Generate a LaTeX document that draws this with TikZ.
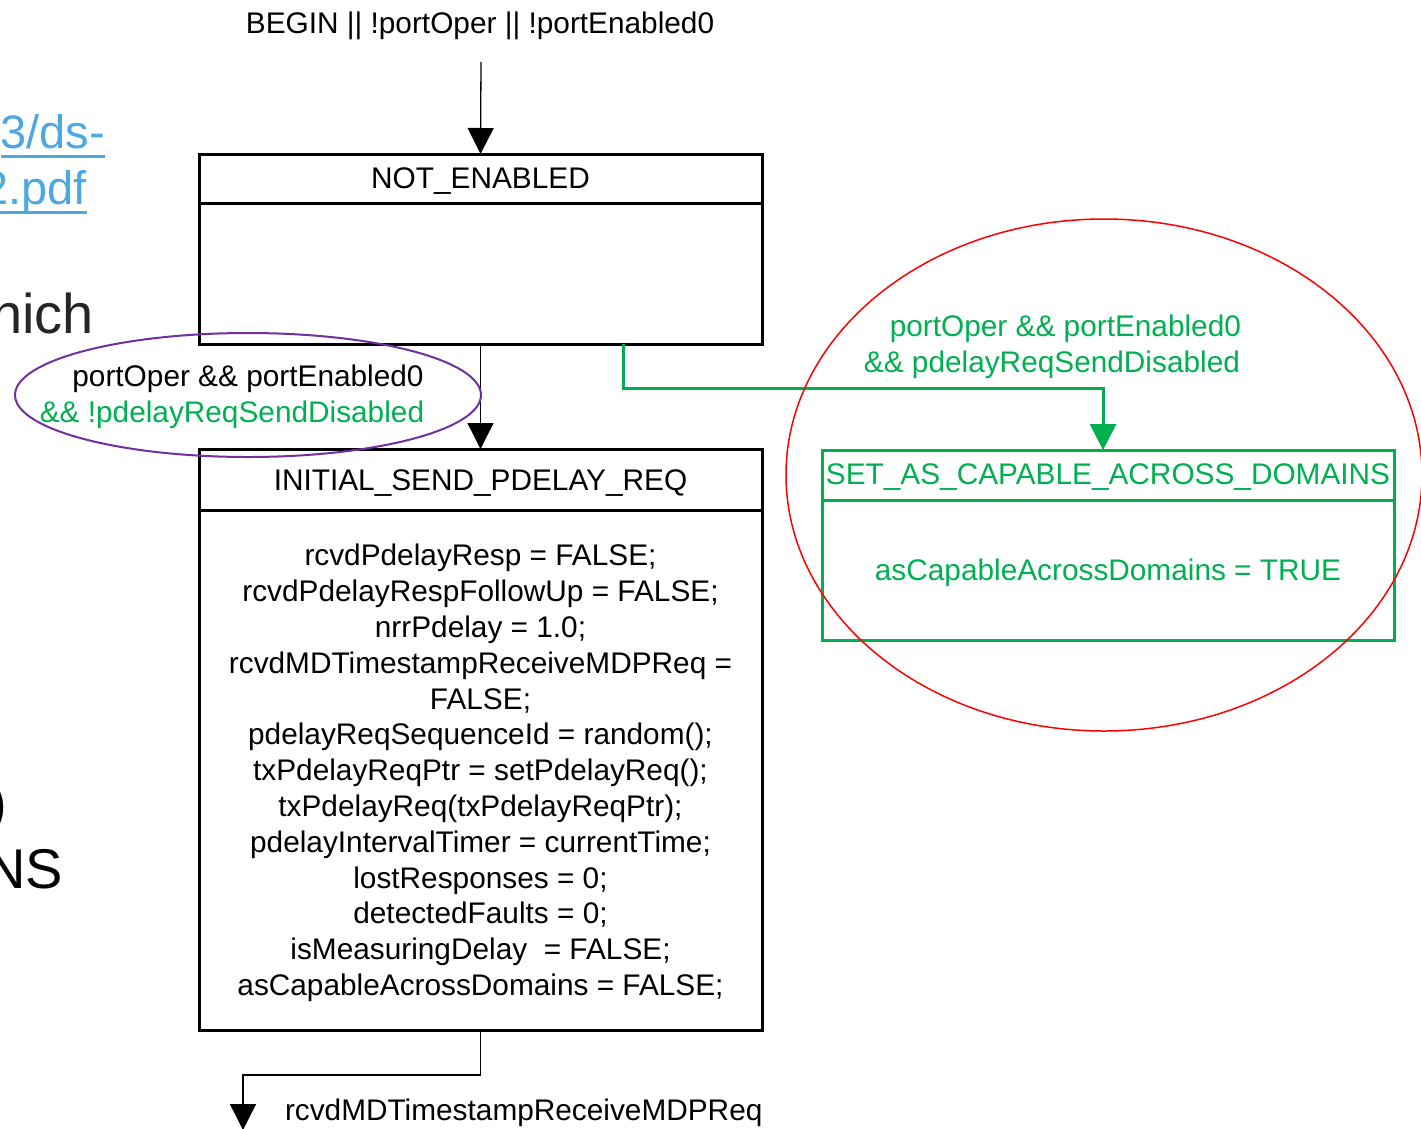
\documentclass[tikz,border=0pt]{standalone}
\usepackage{fontspec}
\setmainfont{Liberation Sans}
\usetikzlibrary{arrows.meta,calc}
\definecolor{vgreen}{HTML}{00B050}
\definecolor{linkblue}{HTML}{4EA8E0}
\definecolor{vpurple}{HTML}{7030A0}
\definecolor{dgray}{HTML}{262626}
\begin{document}
\begin{tikzpicture}[x=1pt,y=-1pt,
  every node/.style={inner sep=0pt,outer sep=0pt},
  lbl/.style={font=\fontsize{29.8}{35.8}\selectfont},
  linkfont/.style={font=\fontsize{47}{56}\selectfont,text=linkblue},
  big/.style={font=\fontsize{56}{66}\selectfont},
  uline/.style={draw=linkblue,line width=3pt},
  statebox/.style={draw,line width=3pt,minimum width=563pt,anchor=north west},
  gbox/.style={draw=vgreen,line width=3pt,minimum width=572pt,anchor=north west},
  conn/.style={line width=1.3pt,-{Triangle[width=26pt,length=26pt]}},
  gconn/.style={draw=vgreen,line width=3pt,-{Triangle[width=26pt,length=26pt]},color=vgreen},
  hdr/.style={line width=3pt}]
\useasboundingbox (0,0) rectangle (1421,1128);
\clip (0,0) rectangle (1421,1128);

% left background fragments
\node[linkfont,anchor=base east] (f1) at (105,148) {3/ds-};
\draw[uline] ($(f1.base west)+(0,8)$) -- ($(f1.base east)+(0,8)$);
\node[linkfont,anchor=base east] (f2) at (87,204) {2.pdf};
\draw[uline] ($(f2.base west)+(0,8)$) -- ($(f2.base east)+(0,8)$);
\node[big,text=dgray,anchor=base east] (f3) at (94,333) {hich};
\node[big,anchor=base east] (f4) at (7,822) {)};
\node[big,anchor=base east] (f5) at (63,888) {NS};

% begin label
\node[lbl,anchor=base] (begin) at (480,33) {BEGIN || !portOper || !portEnabled0};
\coordinate (beginpt) at (481,62);

% NOT_ENABLED
\node[statebox,minimum height=190pt] (ne) at (199,154) {};
\draw[hdr] (199,203) -- (762,203);
\node[lbl,anchor=base] (netitle) at (480.5,188) {NOT\_ENABLED};

% INITIAL_SEND_PDELAY_REQ
\node[statebox,minimum height=581pt] (isp) at (199,449) {};
\draw[hdr] (199,510) -- (762,510);
\node[lbl,anchor=base] (isptitle) at (480.5,490) {INITIAL\_SEND\_PDELAY\_REQ};
\node[lbl,align=center] (ispbody) at (480.5,773) {rcvdPdelayResp = FALSE;\\
rcvdPdelayRespFollowUp = FALSE;\\
nrrPdelay = 1.0;\\
rcvdMDTimestampReceiveMDPReq =\\
FALSE;\\
pdelayReqSequenceId = random();\\
txPdelayReqPtr = setPdelayReq();\\
txPdelayReq(txPdelayReqPtr);\\
pdelayIntervalTimer = currentTime;\\
lostResponses = 0;\\
detectedFaults = 0;\\
isMeasuringDelay \ = FALSE;\\
asCapableAcrossDomains = FALSE;};

% SET_AS_CAPABLE_ACROSS_DOMAINS
\node[gbox,minimum height=190pt] (sac) at (822,450) {};
\draw[hdr,vgreen] (822,500) -- (1394,500);
\node[lbl,text=vgreen,anchor=base] (sactitle) at (1108,484) {SET\_AS\_CAPABLE\_ACROSS\_DOMAINS};
\node[lbl,text=vgreen,anchor=base] (sacbody) at (1108,580) {asCapableAcrossDomains = TRUE};

% connectors
\draw[conn] (beginpt) -- (ne.north);
\draw[conn] (ne.south) -- (isp.north);
\coordinate (outpt) at (243,1130);
\draw[conn] (isp.south) -- ++(0,45) -| (outpt);
\node[lbl,anchor=base west] (outlbl) at (285,1120) {rcvdMDTimestampReceiveMDPReq};

\draw[gconn] ($(ne.south west)+(424,0)$) -- ++(0,44) -| ($(sac.north west)+(281,0)$);
\node[lbl,text=vgreen,anchor=base east] (g1) at (1241,336) {portOper \&\& portEnabled0};
\node[lbl,text=vgreen,anchor=base east] (g2) at (1240,372) {\&\& pdelayReqSendDisabled};

% purple ellipse and guard
\draw[vpurple,line width=2pt] (248,395) ellipse [x radius=233, y radius=62];
\node[lbl,anchor=base] (p1) at (248,386) {portOper \&\& portEnabled0};
\node[lbl,text=vgreen,anchor=base] (p2) at (232,422) {\&\& !pdelayReqSendDisabled};

% red ellipse
\draw[red,line width=1.5pt] (1104,475) ellipse [x radius=318, y radius=256];
\end{tikzpicture}
\end{document}
